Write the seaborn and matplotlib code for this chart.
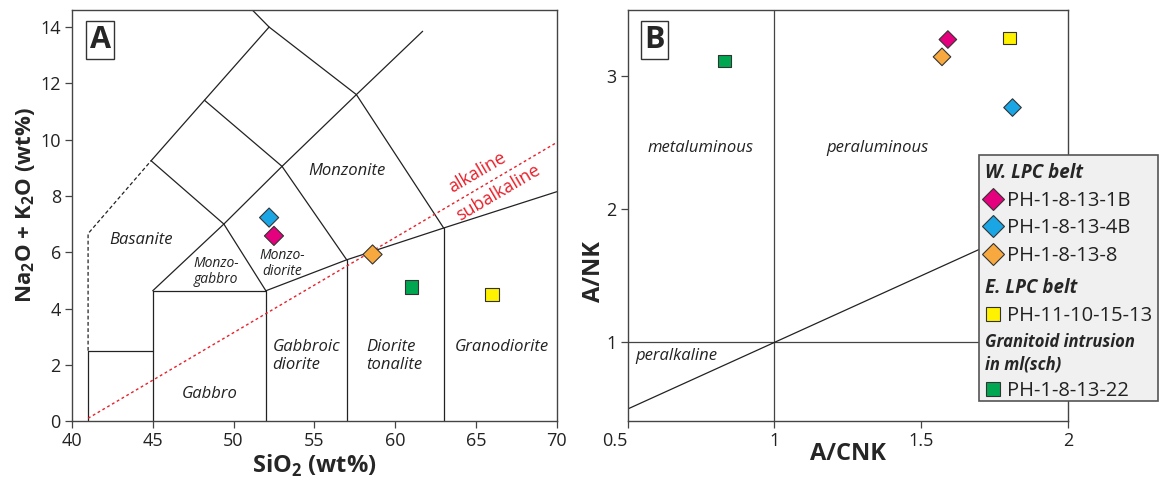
import numpy as np
import pandas as pd
import matplotlib.pyplot as plt
import seaborn as sns
from matplotlib.lines import Line2D
from matplotlib.patches import Rectangle

sns.set_style('ticks')
plt.rcParams['font.family'] = ['Open Sans', 'DejaVu Sans']
plt.rcParams['mathtext.fontset'] = 'custom'
plt.rcParams['mathtext.rm'] = 'Open Sans'
plt.rcParams['mathtext.bf'] = 'Open Sans:bold'

# samples
samples = ['PH-1-8-13-1B', 'PH-1-8-13-4B', 'PH-1-8-13-8', 'PH-11-10-15-13', 'PH-1-8-13-22']
colors = ['#e5007d', '#1aa6e4', '#f7a93f', '#fff200', '#00a650']
markers = ['D', 'D', 'D', 's', 's']
group_titles = ['W. LPC belt', 'E. LPC belt', 'Granitoid intrusion\nin ml(sch)']
group_members = [[0, 1, 2], [3], [4]]

# panel A: TAS
sio2 = [52.5, 52.2, 58.6, 66.0, 61.0]
alkalis = [6.58, 7.23, 5.92, 4.50, 4.76]

# panel B: A/NK vs A/CNK
acnk = [1.59, 1.81, 1.57, 1.80, 0.83]
ank = [3.27, 2.76, 3.14, 3.28, 3.11]

# TAS field boundaries (Middlemost plutonic)
tas_solid = [
    [(41, 0), (41, 2.5), (45, 2.5)],
    [(45, 0), (45, 4.63), (52, 4.63), (52, 0)],
    [(57, 0), (57, 5.73)],
    [(63, 0), (63, 6.86)],
    [(52, 4.63), (57, 5.73), (63, 6.86), (70, 8.15)],
    [(45, 4.63), (49.4, 7.0), (53.0, 9.05), (57.6, 11.6), (61.7, 13.85)],
    [(49.4, 7.0), (52, 4.63)],
    [(53.0, 9.05), (57, 5.73)],
    [(57.6, 11.6), (63, 6.86)],
    [(44.9, 9.25), (49.4, 7.0)],
    [(44.9, 9.25), (48.2, 11.4), (52.2, 14.0)],
    [(51.0, 14.7), (52.2, 14.0), (57.6, 11.6)],
    [(48.2, 11.4), (53.0, 9.05)],
]
tas_dotted = [(41, 2.5), (41, 6.66), (44.9, 9.25)]
alk_line = [(41, 0.1), (70, 9.9)]

tas_labels = [
    ('Basanite', 44.3, 6.42, 12, 'center'),
    ('Monzo-\ngabbro', 48.9, 5.32, 10, 'center'),
    ('Monzo-\ndiorite', 53.0, 5.6, 10, 'center'),
    ('Monzonite', 57.0, 8.9, 12, 'center'),
    ('Gabbroic\ndiorite', 52.4, 2.3, 12, 'left'),
    ('Diorite\ntonalite', 58.2, 2.3, 12, 'left'),
    ('Granodiorite', 66.6, 2.63, 12, 'center'),
    ('Gabbro', 48.5, 0.95, 12, 'center'),
]

b_labels = [
    ('metaluminous', 0.75, 2.46),
    ('peraluminous', 1.35, 2.46),
    ('peralkaline', 0.665, 0.9),
]
shand_line = [0.5, 2.0]

df = pd.DataFrame({'sample': samples, 'sio2': sio2, 'alkalis': alkalis,
                   'acnk': acnk, 'ank': ank})
pal = dict(zip(samples, colors))
mk = dict(zip(samples, markers))

fig = plt.figure(figsize=(11.6, 4.84), dpi=100)
axA = fig.add_axes([0.062, 0.130, 0.418, 0.849])
axB = fig.add_axes([0.541, 0.130, 0.380, 0.849])

line_col = '#222222'
frame_col = '#444444'

# ---- panel A
for seg in tas_solid:
    xs, ys = zip(*seg)
    axA.plot(xs, ys, color=line_col, lw=0.9)
xs, ys = zip(*tas_dotted)
axA.plot(xs, ys, color=line_col, lw=0.9, ls=(0, (3, 2)))
xs, ys = zip(*alk_line)
axA.plot(xs, ys, color='#e8202a', lw=1.0, ls=(0, (2, 2)))

for txt, x, y, fs, ha in tas_labels:
    axA.text(x, y, txt, fontsize=fs, style='italic', ha=ha, va='center',
             color='#222', linespacing=1.15)

sns.scatterplot(data=df, x='sio2', y='alkalis', hue='sample', style='sample',
                palette=pal, markers=mk, s=95, edgecolor='#333', linewidth=0.8,
                legend=False, ax=axA, zorder=5)

axA.set_xlim(40, 70)
axA.set_ylim(0, 14.6)
axA.set_xticks(range(40, 71, 5))
axA.set_yticks(range(0, 15, 2))

slope = (alk_line[1][1] - alk_line[0][1]) / (alk_line[1][0] - alk_line[0][0])
ang = np.degrees(np.arctan(slope))
rot = axA.transData.transform_angles(np.array([ang]), np.array([[65, 8.7]]))[0]
axA.text(65.1, 8.85, 'alkaline', color='#e8202a', fontsize=13, rotation=rot,
         rotation_mode='anchor', ha='center', va='center')
axA.text(66.4, 8.1, 'subalkaline', color='#e8202a', fontsize=13, rotation=rot,
         rotation_mode='anchor', ha='center', va='center')

axA.set_xlabel(r'SiO$_\mathbf{2}$ (wt%)', fontsize=17, fontweight='bold', labelpad=2)
axA.set_ylabel(r'Na$_\mathbf{2}$O + K$_\mathbf{2}$O (wt%)', fontsize=16,
               fontweight='bold')
axA.yaxis.set_label_coords(-0.072, 0.525)
axA.text(0.058, 0.927, 'A', transform=axA.transAxes, fontsize=22, fontweight='bold',
         ha='center', va='center',
         bbox=dict(boxstyle='square,pad=0.12', fc='white', ec='#333', lw=1))

# ---- panel B
axB.axvline(1, color=frame_col, lw=0.9)
axB.axhline(1, color=frame_col, lw=0.9)
axB.plot(shand_line, shand_line, color=line_col, lw=0.9)
for txt, x, y in b_labels:
    axB.text(x, y, txt, fontsize=12, style='italic', ha='center', va='center', color='#222')

sns.scatterplot(data=df, x='acnk', y='ank', hue='sample', style='sample',
                palette=pal, markers=mk, s=80, edgecolor='#333', linewidth=0.8,
                legend=False, ax=axB, zorder=5)

axB.set_xlim(0.5, 2.0)
axB.set_ylim(0.41, 3.49)
axB.set_xticks([0.5, 1, 1.5, 2])
axB.set_xticklabels(['0.5', '1', '1.5', '2'])
axB.set_yticks([1, 2, 3])
axB.set_xlabel('A/CNK', fontsize=17, fontweight='bold', labelpad=-6)
axB.set_ylabel('A/NK', fontsize=17, fontweight='bold')
axB.yaxis.set_label_coords(-0.048, 0.363)
axB.text(0.061, 0.927, 'B', transform=axB.transAxes, fontsize=22, fontweight='bold',
         ha='center', va='center',
         bbox=dict(boxstyle='square,pad=0.12', fc='white', ec='#333', lw=1))

for ax in (axA, axB):
    for sp in ax.spines.values():
        sp.set_color(frame_col)
        sp.set_linewidth(1.0)
    ax.tick_params(direction='out', length=5, width=0.9, color=frame_col,
                   labelsize=13, labelcolor='#222', pad=3)
axB.get_xticklabels()[0].set_ha('right')

# ---- legend
fig.add_artist(Rectangle((0.844, 0.171), 0.1545, 0.509, transform=fig.transFigure,
                         facecolor='#f0f0f0', edgecolor='#555', lw=1.2, zorder=3))
leg_tops = [0.663, 0.425, 0.312]
for title, members, top in zip(group_titles, group_members, leg_tops):
    handles = [Line2D([], [], marker=markers[i], color='none', markerfacecolor=colors[i],
                      markeredgecolor='#333', markeredgewidth=0.8,
                      markersize=11.5 if markers[i] == 'D' else 9.5, linestyle='none')
               for i in members]
    labels = [samples[i] for i in members]
    tsize = 13.5 if '\n' not in title else 12
    leg = fig.legend(handles=handles, labels=labels, title=title, loc='upper left',
                     bbox_to_anchor=(0.849, top), bbox_transform=fig.transFigure,
                     frameon=False, alignment='left', fontsize=14.5,
                     title_fontproperties={'weight': 'bold', 'style': 'italic',
                                           'size': tsize},
                     handlelength=0.8, handletextpad=0.3, labelspacing=0.38,
                     borderpad=0, borderaxespad=0)
    leg.get_title().set_linespacing(1.3)
    for t in leg.get_texts():
        t.set_color('#222')

fig.savefig('out.png', dpi=100)
